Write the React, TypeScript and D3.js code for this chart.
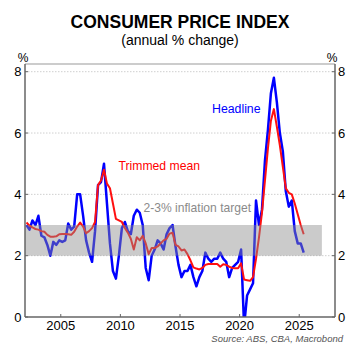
import React from "react";
import * as d3 from "d3";

// quarterly, annual % change, from 2002 Q1 to 2025 Q2
const startYear = 2002;
const headline = [
  3.0, 2.85, 3.15, 3.0, 3.3, 2.65, 2.6, 2.35,
  2.0, 2.45, 2.35, 2.5, 2.45, 2.5, 3.05, 2.85,
  2.95, 4.0, 4.0, 3.3, 2.5, 2.1, 1.8, 2.8,
  4.3, 4.4, 5.0, 3.7, 2.4, 1.5, 1.25, 2.0,
  2.9, 3.1, 2.8, 2.7, 3.3, 3.5, 3.4, 3.0,
  1.6, 1.2, 2.0, 2.2, 2.5, 2.4, 2.2, 2.7,
  2.9, 3.0, 2.3, 1.7, 1.3, 1.5, 1.5, 1.7,
  1.3, 1.0, 1.3, 1.5, 2.1, 1.9, 1.8, 1.9,
  1.9, 2.1, 1.9, 1.8, 1.3, 1.6, 1.7, 1.8,
  2.2, -0.3, 0.7, 0.9, 1.1, 3.8, 3.0, 3.5,
  5.1, 6.1, 7.3, 7.8, 7.0, 6.0, 5.4, 4.1,
  3.6, 3.8, 2.8, 2.4, 2.4, 2.1,
];
const trimmed = [
  3.08, 2.98, 2.92, 2.87, 2.85, 2.8, 2.78, 2.68,
  2.62, 2.62, 2.63, 2.7, 2.71, 2.71, 2.7, 2.68,
  2.78, 2.95, 3.08, 2.95, 2.73, 2.8, 2.9, 3.1,
  4.3, 4.45, 4.8, 4.35, 4.2, 3.7, 3.2, 3.15,
  3.1, 2.9, 2.75, 2.55, 2.2, 2.6, 2.5, 2.65,
  2.4, 2.05, 2.25, 2.25, 2.3, 2.4, 2.5, 2.55,
  2.72, 2.75, 2.35, 2.3, 2.17, 2.2, 2.05, 1.85,
  1.62, 1.58, 1.55, 1.6, 1.7, 1.73, 1.73, 1.73,
  1.73, 1.64, 1.72, 1.7, 1.64, 1.6, 1.59, 1.59,
  1.75, 1.22, 1.2, 1.18, 1.3, 1.9, 2.6, 3.4,
  4.45, 5.5, 6.4, 6.78, 6.2, 5.6, 4.9, 4.2,
  4.05, 4.0, 3.7, 3.35, 3.0, 2.7,
];
const yTicks = [0, 2, 4, 6, 8];
const xTicks = [2005, 2010, 2015, 2020, 2025];
const targetBand = [2, 3];
const bandEnd = 2026.9;

const W = 360;
const H = 351;
const left = 25;
const right = 335;
const top = 64;
const bottom = 317;
const font = "'Liberation Sans', Arial, sans-serif";

export default function App() {
  const x = d3.scaleLinear().domain([2002, 2028]).range([left, right]);
  const y = d3.scaleLinear().domain([0, 8]).range([bottom, 71.7]);
  const t = (i: number) => startYear + i * 0.25 + 0.125;

  const line = d3
    .line<number>()
    .x((d, i) => x(t(i)))
    .y((d) => y(d));

  return (
    <svg
      width={W}
      height={H}
      style={{ position: "absolute", left: 0, top: 0, background: "#fff" }}
      fontFamily={font}
    >
      <defs>
        <clipPath id="plot">
          <rect x={left} y={top} width={right - left} height={bottom - top} />
        </clipPath>
      </defs>

      <text x={180} y={28} textAnchor="middle" fontSize={17.5} fontWeight="bold" fill="#000">
        CONSUMER PRICE INDEX
      </text>
      <text x={180} y={45} textAnchor="middle" fontSize={14} fill="#000">
        (annual % change)
      </text>
      <text x={23} y={62} textAnchor="middle" fontSize={12} fill="#000">%</text>
      <text x={332} y={62} textAnchor="middle" fontSize={12} fill="#000">%</text>

      {/* grid */}
      {yTicks.filter((d) => d > 0).map((d) => (
        <line key={d} x1={left} x2={right} y1={y(d)} y2={y(d)}
          stroke="#cfcfcf" strokeWidth={1} strokeDasharray="1.5,1.5" />
      ))}

      <g clipPath="url(#plot)" fill="none" strokeLinejoin="round">
        <path d={line(headline) ?? ""} stroke="#0000ff" strokeWidth={2.5} />
        <path d={line(trimmed) ?? ""} stroke="#ff1010" strokeWidth={2} />
      </g>

      {/* target band drawn over the lines */}
      <rect
        x={left}
        y={y(targetBand[1])}
        width={x(bandEnd) - left}
        height={y(targetBand[0]) - y(targetBand[1])}
        fill="#8c8c8c"
        opacity={0.45}
      />

      {/* frame */}
      <line x1={left} x2={right} y1={top} y2={top} stroke="#999" strokeWidth={1.2} />
      <line x1={left} x2={left} y1={top} y2={bottom} stroke="#666" strokeWidth={1.5} />
      <line x1={right} x2={right} y1={top} y2={bottom} stroke="#666" strokeWidth={1.5} />
      <line x1={left} x2={right} y1={bottom} y2={bottom} stroke="#666" strokeWidth={1.5} />

      {yTicks.map((d) => (
        <g key={d}>
          <line x1={left} x2={left + 3} y1={y(d)} y2={y(d)} stroke="#666" />
          <line x1={right - 3} x2={right} y1={y(d)} y2={y(d)} stroke="#666" />
          <text x={21.5} y={y(d) + 4.6} textAnchor="end" fontSize={13} fill="#000">{d}</text>
          <text x={338} y={y(d) + 4.6} textAnchor="start" fontSize={13} fill="#000">{d}</text>
        </g>
      ))}

      {xTicks.map((d) => (
        <g key={d}>
          <line x1={x(d)} x2={x(d)} y1={bottom} y2={bottom - 3} stroke="#666" />
          <text x={x(d)} y={330} textAnchor="middle" fontSize={13} fill="#000">{d}</text>
        </g>
      ))}

      <text x={212} y={112.5} fontSize={12.3} fill="#0000ff">Headline</text>
      <text x={118.5} y={170} fontSize={12.2} fill="#ff0000">Trimmed mean</text>
      <text x={143.5} y={211.5} fontSize={12.1} fill="#8a8a8a">2-3% inflation target</text>

      <text x={343} y={342} textAnchor="end" fontSize={9.5} fontStyle="italic" fill="#555">
        Source: ABS, CBA, Macrobond
      </text>
    </svg>
  );
}
